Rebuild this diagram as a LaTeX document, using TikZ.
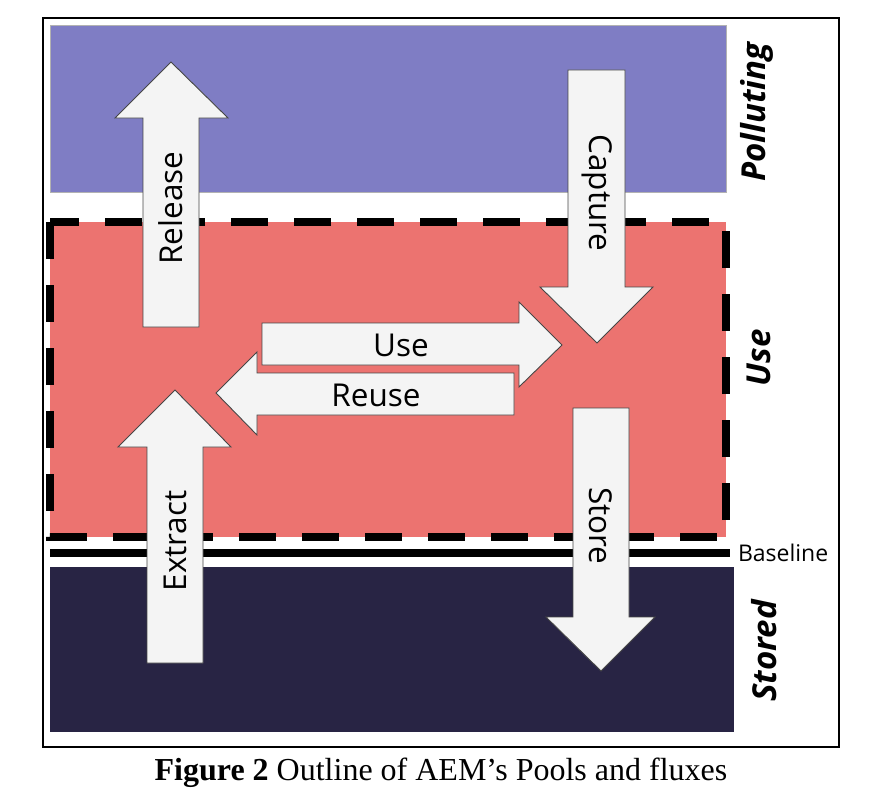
\documentclass[tikz,border=0pt]{standalone}
\usepackage{fontspec}
\setmainfont{Liberation Serif}
\newfontfamily\fluxfont{Open Sans}
\usepackage{tikz}
\usetikzlibrary{calc}
\usetikzlibrary{positioning}
\usepackage{color}
\definecolor{pollutingpool}{RGB}{127, 125, 196}
\definecolor{usepool}{RGB}{236, 115, 112}
\definecolor{storedpool}{RGB}{40, 36, 68}
\definecolor{fluxfill}{RGB}{244, 244, 244}
\definecolor{fluxline}{RGB}{70, 70, 70}
\tikzset{
  fluxarrow/.style={fill=fluxfill, draw=fluxline, line width=0.9pt, line join=miter},
  fluxtext/.style={font=\fluxfont\fontsize{31.5}{36}\selectfont, anchor=center, inner sep=0pt},
  pooltext/.style={font=\fluxfont\bfseries\itshape\fontsize{33}{38}\selectfont, anchor=center, inner sep=0pt, rotate=90}
}

\begin{document}
\begin{tikzpicture}[x=1pt, y=-1pt]
            \useasboundingbox                                             (0, 0) rectangle (886, 800);
            \draw[black, line width=1.6pt]                                (43, 18) rectangle (839, 747);
            % pools
            \filldraw[fill=pollutingpool, draw=gray!60, line width=0.6pt] (50, 25) rectangle (726, 192);
            \fill[usepool]                                                (50, 222) rectangle (726, 537);
            \fill[storedpool]                                             (50, 567) rectangle (734, 732);
            \draw[black, line width=8pt, dash pattern=on 37pt off 26pt]   (50, 222) rectangle (726, 537);
            \draw[black, line width=8pt]                                  (50, 553) -- (730, 553)
                 node[right=4pt, font=\fluxfont\fontsize{23}{27}\selectfont, inner sep=0pt] (baseline) {Baseline};
            % fluxes
            \filldraw[fluxarrow] (143, 327) -- (143, 118) -- (115, 118) -- (171, 62) -- (228, 118) -- (199, 118) -- (199, 327) -- cycle;
            \node[fluxtext, rotate=90]  (release) at (171, 208) {Release};
            \filldraw[fluxarrow] (568, 70) -- (625, 70) -- (625, 287) -- (653, 287) -- (597, 343) -- (540, 287) -- (568, 287) -- cycle;
            \node[fluxtext, rotate=-90] (capture) at (597, 193) {Capture};
            \filldraw[fluxarrow] (262, 323) -- (519, 323) -- (519, 302) -- (562, 345) -- (519, 387) -- (519, 365) -- (262, 365) -- cycle;
            \node[fluxtext]             (use)     at (401, 345) {Use};
            \filldraw[fluxarrow] (514, 373) -- (257, 373) -- (257, 352) -- (216, 393) -- (257, 435) -- (257, 415) -- (514, 415) -- cycle;
            \node[fluxtext]             (reuse)   at (376, 395) {Reuse};
            \filldraw[fluxarrow] (147, 663) -- (147, 447) -- (118, 447) -- (175, 390) -- (231, 447) -- (203, 447) -- (203, 663) -- cycle;
            \node[fluxtext, rotate=90]  (extract) at (175, 541) {Extract};
            \filldraw[fluxarrow] (573, 408) -- (629, 408) -- (629, 617) -- (655, 617) -- (601, 671) -- (546, 617) -- (573, 617) -- cycle;
            \node[fluxtext, rotate=-90] (store)   at (601, 526) {Store};
            % pool names
            \node[pooltext] (polluting) at (757, 112) {Polluting};
            \node[pooltext] (usename)   at (759, 358) {Use};
            \node[pooltext] (stored)    at (764, 651) {Stored};
            \node[font=\fontsize{32}{38}\selectfont, inner sep=0pt] (caption) at (441, 773)
                 {\textbf{Figure 2} Outline of AEM’s Pools and fluxes};
\end{tikzpicture}
\end{document}
